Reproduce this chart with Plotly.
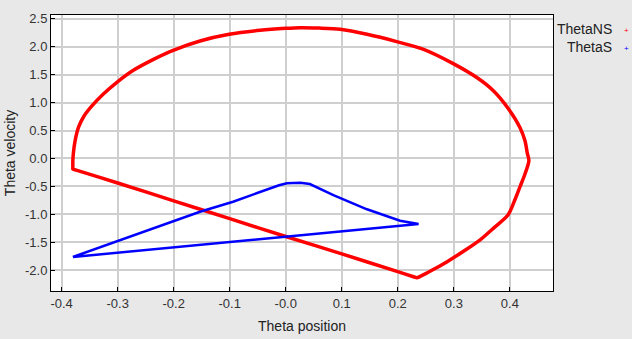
import plotly.graph_objects as go

series_names = ["ThetaNS", "ThetaS"]
series_colors = ["#ff0000", "#0000ff"]

theta_ns_pos = [-0.380, -0.374, -0.300, -0.200, -0.100, 0.000, 0.100, 0.200, 0.228, 0.234, 0.240,
                0.260, 0.288, 0.318, 0.347,
                0.372, 0.397, 0.409, 0.418, 0.427, 0.434, 0.431, 0.427, 0.418, 0.398, 0.371, 0.341,
                0.299, 0.246, 0.198, 0.145, 0.097, 0.060, 0.026, 0.000, -0.046, -0.101, -0.153,
                -0.201, -0.236, -0.272, -0.302, -0.326, -0.346, -0.360, -0.370, -0.376, -0.379,
                -0.380, -0.380, -0.380]
theta_ns_vel = [-0.19, -0.21, -0.44, -0.76, -1.08, -1.40, -1.71, -2.03, -2.12, -2.14, -2.115,
                -2.01, -1.85, -1.66, -1.46,
                -1.24, -1.01, -0.74, -0.51, -0.28, -0.04, 0.10, 0.315, 0.555, 0.882, 1.209, 1.449,
                1.699, 1.955, 2.093, 2.224, 2.313, 2.335, 2.343, 2.331, 2.295, 2.224, 2.104,
                1.937, 1.776, 1.580, 1.360, 1.150, 0.941, 0.760, 0.555, 0.315, 0.100,
                -0.043, -0.17, -0.19]

theta_s_pos = [-0.380, -0.242, -0.153, -0.094, -0.034, -0.012, 0.002, 0.026, 0.043, 0.060, 0.085,
               0.145, 0.204, 0.237, -0.380]
theta_s_vel = [-1.766, -1.28, -0.955, -0.776, -0.555, -0.48, -0.447, -0.436, -0.46, -0.54, -0.657,
               -0.912, -1.116, -1.175, -1.766]

x_tickvals = [-0.4, -0.3, -0.2, -0.1, 0.0, 0.1, 0.2, 0.3, 0.4]
x_ticktext = ["-0.4", "-0.3", "-0.2", "-0.1", "-0.0", "0.1", "0.2", "0.3", "0.4"]
y_tickvals = [2.5, 2.0, 1.5, 1.0, 0.5, 0.0, -0.5, -1.0, -1.5, -2.0]
y_ticktext = ["2.5", "2.0", "1.5", "1.0", "0.5", "0.0", "-0.5", "-1.0", "-1.5", "-2.0"]

fig = go.Figure()
fig.add_trace(go.Scatter(x=theta_ns_pos, y=theta_ns_vel, mode="lines", name=series_names[0],
                         line=dict(color=series_colors[0], width=3.5, shape="spline", smoothing=0.8),
                         showlegend=False))
fig.add_trace(go.Scatter(x=theta_s_pos, y=theta_s_vel, mode="lines", name=series_names[1],
                         line=dict(color=series_colors[1], width=2.5), showlegend=False))

font_family = "Liberation Sans, Arial, sans-serif"
axis_common = dict(showline=True, linecolor="#000000", linewidth=1, mirror=True,
                   showgrid=True, gridcolor="#cfcfcf", gridwidth=1.5, zeroline=False,
                   ticks="inside", ticklen=4, tickcolor="#000000", automargin=False,
                   tickfont=dict(family=font_family, size=13, color="#333333"))

fig.update_xaxes(range=[-0.419, 0.477], tickvals=x_tickvals, ticktext=x_ticktext,
                 title=dict(text="Theta position", font=dict(family=font_family, size=14, color="#222222"),
                            standoff=11), **axis_common)
fig.update_yaxes(range=[-2.376, 2.57], tickvals=y_tickvals, ticktext=y_ticktext,
                 title=dict(text="Theta velocity", font=dict(family=font_family, size=14, color="#222222"),
                            standoff=6), **axis_common)

annotations = []
for i, (nm, col) in enumerate(zip(series_names, series_colors)):
    annotations.append(dict(xref="paper", yref="paper", x=1.122, y=0.95 - i * 0.065,
                            xanchor="right", yanchor="middle", showarrow=False,
                            text=nm, font=dict(family=font_family, size=14, color="#222222")))
    annotations.append(dict(xref="paper", yref="paper", x=1.147, y=0.945 - i * 0.065,
                            xanchor="center", yanchor="middle", showarrow=False,
                            text="+", font=dict(family=font_family, size=8, color=col)))

fig.update_layout(width=632, height=339,
                  margin=dict(l=51, r=79, t=15, b=48),
                  paper_bgcolor="#e8e8e8", plot_bgcolor="#ffffff",
                  annotations=annotations, showlegend=False)

fig.write_html("out.html", config={"displayModeBar": False},
               post_script="document.body.style.margin='0px';")
